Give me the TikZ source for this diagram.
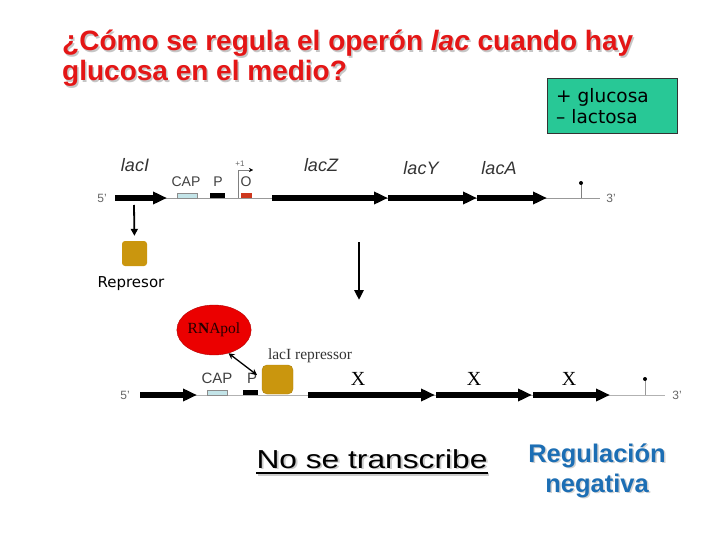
\documentclass[tikz,border=0pt]{standalone}
\usepackage{fontspec}
\setmainfont{Liberation Sans}
\newfontfamily\verd{DejaVu Sans}
\newfontfamily\tms{Liberation Serif}
\usetikzlibrary{arrows.meta}
\usetikzlibrary{shapes.geometric}
\definecolor{titred}{RGB}{228,22,22}
\definecolor{boxgreen}{RGB}{40,200,150}
\definecolor{gold}{RGB}{202,150,14}
\definecolor{regblue}{RGB}{28,110,180}
\definecolor{capblue}{RGB}{195,228,232}
\definecolor{opred}{RGB}{205,55,30}
\newcommand{\fs}[1]{\fontsize{#1}{#1}\selectfont}
\newcommand{\shad}[2]{\makebox[0pt][l]{\kern1.5pt\raisebox{-1.5pt}{\color{#1}#2}}#2}

\begin{document}
\begin{tikzpicture}[x=1pt,y=-1pt,
  gene/.style={line width=5.5pt,-{Triangle[length=14pt,width=12pt]}},
  dna/.style={black!40,line width=0.9pt},
  glab/.style={font=\fs{18}\itshape,text=black!80,inner sep=0},
  slab/.style={font=\fs{14},text=black!75,inner sep=0},
  end/.style={font=\fs{12},text=black!60,inner sep=0},
  title/.style={font=\fs{28}\bfseries,text=titred,inner sep=0,anchor=base west}]
\useasboundingbox (0,0) rectangle (720,540);

\node[title] (t1) at (62,51) {\shad{gray!45}{¿Cómo se regula el operón \textit{lac} cuando hay}};
\node[title] (t2) at (62,81) {\shad{gray!45}{glucosa en el medio?}};

\node[draw=black!80,fill=boxgreen,line width=1pt,minimum width=130,minimum height=55,
  text width=112,align=left,inner xsep=9,font=\verd\fontsize{18.5}{21}\selectfont] (cond) at (612,106)
  {+ glucosa\\– lactosa};

\coordinate (d5) at (115,198);
\coordinate (d3) at (600,198);
\draw[dna] (d5) -- (d3);
\node[end] (p5) at (102,198) {5'};
\node[end] (p3) at (611,198) {3'};
\draw[gene] (115,198) -- (167,198);
\draw[gene] (272,198) -- (388,198);
\draw[gene] (388,198) -- (477,198);
\draw[gene] (477,198) -- (547,198);
\node[draw=black!45,fill=capblue,minimum width=20,minimum height=5,inner sep=0] (cap) at (187,196) {};
\node[fill=black,minimum width=15,minimum height=5,inner sep=0] (prom) at (217.5,196) {};
\node[fill=opred,minimum width=11,minimum height=5,inner sep=0] (oper) at (246.5,196) {};
\draw[black!50,-{Stealth[length=4pt,width=4pt,black]}] (238,198) -- (238,170) -- (253,170);
\node[font=\fs{8},text=black!60] (plus) at (240,164) {+1};
\node[slab] (olab) at (246,182) {O};
\node[slab] (caplab) at (186,182) {CAP};
\node[slab] (plab) at (218,182) {P};
\node[glab] (lacI) at (135,165) {lacI};
\node[glab] (lacZ) at (321,165) {lacZ};
\node[glab] (lacY) at (421,168) {lacY};
\node[glab] (lacA) at (499,168) {lacA};
\draw[black!50] (581,198) -- (581,184);
\fill (581,183) circle (2);

\node[fill=gold,rounded corners=3,minimum width=25,minimum height=25,inner sep=0] (rep1) at (134.5,253.5) {};
\node[font=\verd\fs{15},inner sep=0,anchor=base] (replab) at (131,287) {Represor};
\draw[line width=1.8pt,-{Triangle[length=7pt,width=7pt]}] (134,205) -- (rep1.north) [shorten >=5pt];
\coordinate (bigtop) at (359,242);
\coordinate (bigend) at (359,300);
\draw[line width=2.8pt,-{Triangle[length=10pt,width=9pt]}] (bigtop) -- (bigend);

\coordinate (e5) at (140,395);
\coordinate (e3) at (665,395);
\draw[black!30,line width=1pt] (e5) -- (e3);
\node[end] (q5) at (125,395) {5'};
\node[end] (q3) at (677,395) {3'};
\draw[gene] (140,395) -- (197,395);
\draw[gene] (308,395) -- (435,395);
\draw[gene] (436,395) -- (532,395);
\draw[gene] (533,395) -- (610,395);
\node[draw=black!45,fill=capblue,minimum width=20,minimum height=5,inner sep=0] (cap2) at (217,392.5) {};
\node[fill=black,minimum width=15,minimum height=5,inner sep=0] (prom2) at (250.5,392.5) {};
\node[slab,font=\fs{15}] (caplab2) at (217,378) {CAP};
\node[slab,font=\fs{15}] (plab2) at (252,378) {P};
\node[fill=gold,draw=gold!85!black,rounded corners=5,minimum width=31,minimum height=29,inner sep=0] (rep2) at (277.5,379.5) {};
\node[font=\tms\fs{15.5},text=black!80,inner sep=0] (replab2) at (310,356) {lacI repressor};
\node[ellipse,fill=red!92!black,draw=red!70!black,minimum width=69,minimum height=50,inner sep=0,
  font=\tms\fs{15.5},text=black!85!red] (pol) at (214,330) {R\textbf{N}Apol};
\coordinate (bind) at (257,375);
\draw[line width=1.3pt,{Stealth[length=6pt,width=6pt]}-{Stealth[length=6pt,width=6pt]}] (pol.-58) -- (bind);
\node[font=\tms\fs{20},inner sep=0] (x1) at (358,379) {X};
\node[font=\tms\fs{20},inner sep=0] (x2) at (474,379) {X};
\node[font=\tms\fs{20},inner sep=0] (x3) at (569,379) {X};
\draw[black!40] (645,395) -- (645,380);
\fill (645,379) circle (2);

\node[font=\fs{26},inner sep=0,anchor=base] (ns) at (372,468)
  {\scalebox{1.22}[1]{\shad{gray!40}{No se transcribe}}};
\draw[gray!40,line width=2.2pt] ([xshift=1.5pt,yshift=-6.5pt]ns.base west) -- ([xshift=1.5pt,yshift=-6.5pt]ns.base east);
\draw[line width=2.2pt] ([yshift=-5pt]ns.base west) -- ([yshift=-5pt]ns.base east);

\node[font=\fs{25.5}\bfseries,text=regblue,inner sep=0,anchor=base] (reg1) at (597,462) {\shad{gray!35}{Regulación}};
\node[font=\fs{25.5}\bfseries,text=regblue,inner sep=0,anchor=base] (reg2) at (597,492) {\shad{gray!35}{negativa}};
\end{tikzpicture}
\end{document}
